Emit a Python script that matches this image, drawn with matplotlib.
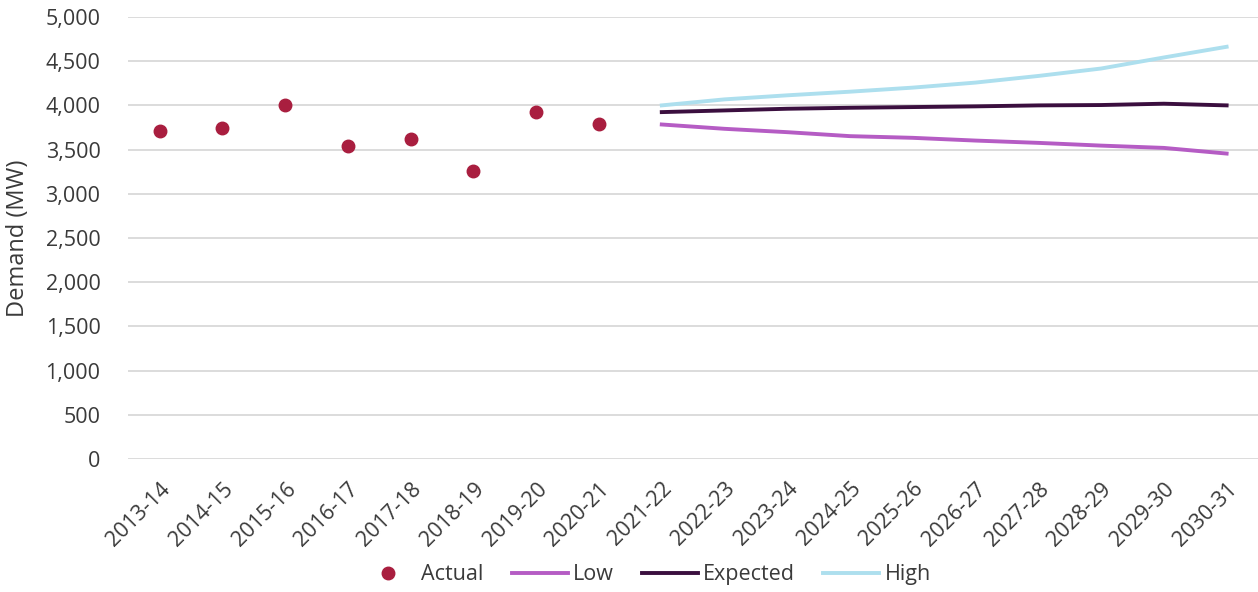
import matplotlib
matplotlib.use("Agg")
import matplotlib.pyplot as plt
import matplotlib.transforms as mtransforms
from matplotlib.ticker import FuncFormatter, MultipleLocator

plt.rcParams['font.family'] = ['Open Sans', 'DejaVu Sans']

years = ['2013-14', '2014-15', '2015-16', '2016-17', '2017-18', '2018-19',
         '2019-20', '2020-21', '2021-22', '2022-23', '2023-24', '2024-25',
         '2025-26', '2026-27', '2027-28', '2028-29', '2029-30', '2030-31']

actual = [3713, 3739, 4008, 3546, 3618, 3258, 3921, 3784]
low = [3784, 3735, 3697, 3652, 3633, 3602, 3576, 3545, 3519, 3455]
expected = [3924, 3943, 3962, 3973, 3981, 3989, 4000, 4004, 4019, 4000]
high = [4000, 4068, 4114, 4155, 4201, 4258, 4333, 4417, 4542, 4663]

x_all = list(range(len(years)))
x_act = x_all[:len(actual)]
x_fc = x_all[len(actual):]

FS = 15.5
TXT = '#3A3A3A'

fig = plt.figure(figsize=(12.58, 5.92), dpi=100)
ax = fig.add_axes([0.102, 0.2247, 0.898, 0.7466])

ax.plot(x_act, actual, 'o', color='#A91E3F', markersize=9, label='Actual', zorder=3)
ax.plot(x_fc, low, color='#B55CC4', lw=2.8, label='Low', zorder=3)
ax.plot(x_fc, expected, color='#3B0F3F', lw=2.8, label='Expected', zorder=3)
ax.plot(x_fc, high, color='#ADDFEE', lw=2.8, label='High', zorder=3)

ax.set_xlim(-0.5, len(years) - 0.5)
ax.set_ylim(0, 5000)
ax.yaxis.set_major_locator(MultipleLocator(500))
ax.yaxis.set_major_formatter(FuncFormatter(lambda v, p: f'{int(v):,}'))
ax.set_xticks(x_all)
ax.set_xticklabels(years, rotation=45, ha='right', rotation_mode='anchor')

# nudge rotated labels a little to the left
shift = mtransforms.ScaledTranslation(-5 / 100, 0, fig.dpi_scale_trans)
for lab in ax.get_xticklabels():
    lab.set_transform(lab.get_transform() + shift)

for s in ax.spines.values():
    s.set_visible(False)
ax.grid(axis='y', color='#D9D9D9', lw=1.3)
ax.set_axisbelow(True)
ax.tick_params(axis='both', length=0, labelsize=FS, colors=TXT)
ax.tick_params(axis='y', pad=20)
ax.tick_params(axis='x', pad=14)

ax.set_ylabel('Demand (MW)', fontsize=17, color=TXT, labelpad=11)

fig.legend(loc='center', bbox_to_anchor=(0.513, 0.029), ncol=4, frameon=False,
           fontsize=FS, handlelength=2.6, handletextpad=0.25, columnspacing=1.3,
           labelcolor=TXT)

fig.savefig('out.png', dpi=100)
